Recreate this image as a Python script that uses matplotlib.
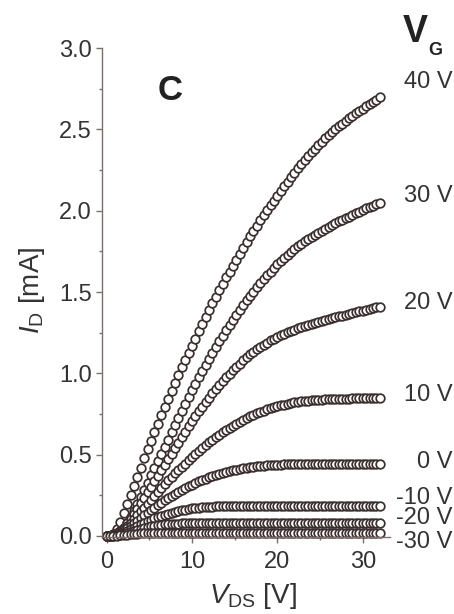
import numpy as np
import matplotlib
matplotlib.use('Agg')
import matplotlib.pyplot as plt
from matplotlib.ticker import MultipleLocator

plt.rcParams['font.family'] = ['Liberation Sans', 'DejaVu Sans']
plt.rcParams['mathtext.fontset'] = 'custom'
plt.rcParams['mathtext.rm'] = 'Liberation Sans'
plt.rcParams['mathtext.it'] = 'Liberation Sans:italic'
plt.rcParams['mathtext.bf'] = 'Liberation Sans:bold'

# drain voltage sweep [V], 0.4 V steps
vds = [0.0, 0.4, 0.8, 1.2, 1.6, 2.0, 2.4, 2.8, 3.2, 3.6,
       4.0, 4.4, 4.8, 5.2, 5.6, 6.0, 6.4, 6.8, 7.2, 7.6,
       8.0, 8.4, 8.8, 9.2, 9.6, 10.0, 10.4, 10.8, 11.2, 11.6,
       12.0, 12.4, 12.8, 13.2, 13.6, 14.0, 14.4, 14.8, 15.2, 15.6,
       16.0, 16.4, 16.8, 17.2, 17.6, 18.0, 18.4, 18.8, 19.2, 19.6,
       20.0, 20.4, 20.8, 21.2, 21.6, 22.0, 22.4, 22.8, 23.2, 23.6,
       24.0, 24.4, 24.8, 25.2, 25.6, 26.0, 26.4, 26.8, 27.2, 27.6,
       28.0, 28.4, 28.8, 29.2, 29.6, 30.0, 30.4, 30.8, 31.2, 31.6,
       32.0]

# drain current [mA] for each gate voltage
id_40 = [0.000, 0.002, 0.010, 0.040, 0.085, 0.140, 0.196, 0.252, 0.308, 0.364,
         0.420, 0.476, 0.532, 0.586, 0.638, 0.690, 0.742, 0.794, 0.844, 0.892,
         0.940, 0.988, 1.036, 1.082, 1.126, 1.170, 1.214, 1.258, 1.302, 1.346,
         1.390, 1.430, 1.470, 1.510, 1.550, 1.590, 1.626, 1.662, 1.698, 1.734,
         1.770, 1.806, 1.842, 1.876, 1.908, 1.940, 1.972, 2.004, 2.034, 2.062,
         2.090, 2.120, 2.150, 2.179, 2.207, 2.235, 2.261, 2.287, 2.312, 2.336,
         2.360, 2.382, 2.404, 2.425, 2.445, 2.465, 2.483, 2.502, 2.519, 2.536,
         2.553, 2.569, 2.584, 2.599, 2.614, 2.628, 2.642, 2.655, 2.668, 2.681,
         2.697]
id_30 = [0.000, 0.001, 0.006, 0.016, 0.032, 0.050, 0.082, 0.114, 0.152, 0.196,
         0.240, 0.284, 0.328, 0.372, 0.416, 0.460, 0.504, 0.548, 0.592, 0.636,
         0.680, 0.724, 0.768, 0.811, 0.853, 0.895, 0.935, 0.975, 1.014, 1.052,
         1.090, 1.126, 1.162, 1.197, 1.231, 1.265, 1.297, 1.329, 1.360, 1.390,
         1.420, 1.448, 1.476, 1.503, 1.529, 1.555, 1.579, 1.603, 1.626, 1.648,
         1.670, 1.690, 1.710, 1.729, 1.747, 1.765, 1.781, 1.797, 1.812, 1.826,
         1.840, 1.853, 1.866, 1.878, 1.890, 1.902, 1.913, 1.924, 1.935, 1.945,
         1.955, 1.964, 1.973, 1.983, 1.994, 2.005, 2.014, 2.023, 2.032, 2.041,
         2.050]
id_20 = [0.000, 0.001, 0.005, 0.016, 0.032, 0.050, 0.078, 0.106, 0.136, 0.168,
         0.200, 0.234, 0.268, 0.302, 0.336, 0.370, 0.404, 0.438, 0.472, 0.506,
         0.540, 0.574, 0.608, 0.641, 0.673, 0.705, 0.735, 0.765, 0.794, 0.822,
         0.850, 0.876, 0.902, 0.927, 0.951, 0.975, 0.997, 1.019, 1.040, 1.060,
         1.080, 1.098, 1.116, 1.133, 1.148, 1.163, 1.176, 1.189, 1.202, 1.213,
         1.224, 1.234, 1.243, 1.252, 1.261, 1.269, 1.276, 1.283, 1.290, 1.297,
         1.303, 1.309, 1.315, 1.321, 1.327, 1.333, 1.339, 1.344, 1.350, 1.355,
         1.360, 1.365, 1.370, 1.376, 1.381, 1.386, 1.391, 1.396, 1.400, 1.405,
         1.410]
id_10 = [0.000, 0.001, 0.005, 0.014, 0.026, 0.040, 0.060, 0.080, 0.102, 0.126,
         0.150, 0.174, 0.198, 0.222, 0.246, 0.270, 0.294, 0.318, 0.341, 0.363,
         0.385, 0.405, 0.425, 0.445, 0.465, 0.485, 0.503, 0.521, 0.539, 0.557,
         0.575, 0.591, 0.607, 0.622, 0.636, 0.650, 0.664, 0.678, 0.691, 0.703,
         0.715, 0.725, 0.735, 0.745, 0.754, 0.763, 0.771, 0.778, 0.785, 0.792,
         0.798, 0.803, 0.808, 0.813, 0.817, 0.821, 0.824, 0.827, 0.829, 0.831,
         0.833, 0.835, 0.836, 0.838, 0.839, 0.840, 0.841, 0.842, 0.842, 0.843,
         0.844, 0.844, 0.845, 0.845, 0.846, 0.846, 0.846, 0.847, 0.847, 0.848,
         0.848]
id_0 = [0.000, 0.001, 0.004, 0.010, 0.020, 0.030, 0.046, 0.062, 0.078, 0.094,
        0.110, 0.126, 0.142, 0.158, 0.174, 0.190, 0.204, 0.218, 0.232, 0.246,
        0.260, 0.272, 0.284, 0.295, 0.305, 0.315, 0.325, 0.335, 0.344, 0.352,
        0.360, 0.367, 0.374, 0.381, 0.387, 0.393, 0.398, 0.403, 0.407, 0.411,
        0.415, 0.418, 0.421, 0.424, 0.427, 0.429, 0.431, 0.433, 0.435, 0.436,
        0.437, 0.438, 0.439, 0.439, 0.440, 0.440, 0.440, 0.440, 0.441, 0.441,
        0.441, 0.441, 0.441, 0.441, 0.441, 0.441, 0.442, 0.442, 0.442, 0.442,
        0.442, 0.442, 0.442, 0.442, 0.442, 0.442, 0.442, 0.442, 0.442, 0.442,
        0.442]
id_m10 = [0.000, 0.001, 0.004, 0.008, 0.014, 0.020, 0.030, 0.040, 0.050, 0.060,
          0.070, 0.080, 0.090, 0.099, 0.107, 0.115, 0.122, 0.129, 0.136, 0.142,
          0.148, 0.153, 0.158, 0.162, 0.165, 0.169, 0.171, 0.174, 0.176, 0.177,
          0.179, 0.180, 0.181, 0.182, 0.183, 0.184, 0.184, 0.185, 0.185, 0.185,
          0.185, 0.185, 0.186, 0.186, 0.186, 0.186, 0.186, 0.186, 0.186, 0.186,
          0.186, 0.186, 0.186, 0.186, 0.186, 0.186, 0.186, 0.186, 0.186, 0.186,
          0.186, 0.186, 0.186, 0.186, 0.186, 0.186, 0.186, 0.186, 0.186, 0.186,
          0.186, 0.186, 0.186, 0.186, 0.186, 0.186, 0.186, 0.186, 0.186, 0.186,
          0.186]
id_m20 = [0.000, 0.001, 0.002, 0.005, 0.008, 0.012, 0.018, 0.025, 0.031, 0.038,
          0.045, 0.050, 0.055, 0.060, 0.063, 0.067, 0.069, 0.071, 0.073, 0.074,
          0.075, 0.076, 0.077, 0.077, 0.078, 0.078, 0.079, 0.079, 0.079, 0.079,
          0.080, 0.080, 0.080, 0.080, 0.080, 0.080, 0.080, 0.080, 0.080, 0.080,
          0.080, 0.080, 0.080, 0.080, 0.080, 0.080, 0.080, 0.080, 0.080, 0.080,
          0.080, 0.080, 0.080, 0.080, 0.080, 0.080, 0.080, 0.080, 0.080, 0.080,
          0.080, 0.080, 0.080, 0.080, 0.080, 0.080, 0.080, 0.080, 0.080, 0.080,
          0.080, 0.080, 0.080, 0.080, 0.080, 0.080, 0.080, 0.080, 0.080, 0.080,
          0.080]
id_m30 = [0.000, 0.000, 0.001, 0.002, 0.004, 0.006, 0.008, 0.010, 0.012, 0.013,
          0.015, 0.016, 0.017, 0.017, 0.018, 0.018, 0.018, 0.019, 0.019, 0.019,
          0.019, 0.019, 0.019, 0.020, 0.020, 0.020, 0.020, 0.020, 0.020, 0.020,
          0.020, 0.020, 0.020, 0.020, 0.020, 0.020, 0.020, 0.020, 0.020, 0.020,
          0.020, 0.020, 0.020, 0.020, 0.020, 0.020, 0.020, 0.020, 0.020, 0.020,
          0.020, 0.020, 0.020, 0.020, 0.020, 0.020, 0.020, 0.020, 0.020, 0.020,
          0.020, 0.020, 0.020, 0.020, 0.020, 0.020, 0.020, 0.020, 0.020, 0.020,
          0.020, 0.020, 0.020, 0.020, 0.020, 0.020, 0.020, 0.020, 0.020, 0.020,
          0.020]

gate_labels = ['40 V', '30 V', '20 V', '10 V', '0 V', '-10 V', '-20 V', '-30 V']
curves = [id_40, id_30, id_20, id_10, id_0, id_m10, id_m20, id_m30]

# vertical position of each gate label (mA), right of the curves
label_y = [2.79, 2.09, 1.43, 0.865, 0.457, 0.235, 0.11, -0.04]

text_color = '#333333'
spine_color = '#7d6f66'
marker_color = '#3a2e2f'

fig = plt.figure(figsize=(4.54, 6.14), dpi=100)
ax = fig.add_axes([0.2236, 0.1246, 0.6355, 0.797])

for cur in curves:
    ax.plot(vds, cur, linestyle='none', marker='o', markersize=6.2,
            markerfacecolor='white', markeredgecolor=marker_color,
            markeredgewidth=1.25, clip_on=False)

for lab, y in zip(gate_labels, label_y):
    ax.text(40.5, y, lab, ha='right', va='center', fontsize=17,
            color=text_color, clip_on=False)

ax.set_xlim(-0.6, 33.2)
ax.set_ylim(-0.01, 3.0)
ax.xaxis.set_major_locator(MultipleLocator(10))
ax.xaxis.set_minor_locator(MultipleLocator(5))
ax.yaxis.set_major_locator(MultipleLocator(0.5))
ax.yaxis.set_minor_locator(MultipleLocator(0.25))

for side in ['top', 'right']:
    ax.spines[side].set_visible(False)
for side in ['left', 'bottom']:
    ax.spines[side].set_color(spine_color)
    ax.spines[side].set_linewidth(1.0)

ax.tick_params(which='both', direction='out', color=spine_color, width=1.0,
               labelcolor=text_color, labelsize=17)
ax.tick_params(which='major', length=4)
ax.tick_params(which='minor', length=2.5)
ax.tick_params(axis='x', which='major', pad=6)
ax.tick_params(axis='y', which='major', pad=3)

ax.set_xlabel(r'$V_{\rm DS}$ [V]', fontsize=20, color=text_color)
ax.set_ylabel(r'$I_{\rm D}$ [mA]', fontsize=20, color=text_color)
ax.xaxis.set_label_coords(0.525, -0.088)
ax.yaxis.set_label_coords(-0.189, 0.506)

# panel letter and gate voltage header
fig.text(158 / 454, 1 - 100 / 614, 'C', fontsize=25, fontweight='bold',
         color='#222222', va='baseline')
fig.text(403 / 454, 1 - 42 / 614, 'V', fontsize=27, fontweight='bold',
         color='#222222', va='baseline')
fig.text(428 / 454, 1 - 55 / 614, 'G', fontsize=13, fontweight='bold',
         color='#222222', va='baseline')

fig.savefig('out.png', dpi=100)
